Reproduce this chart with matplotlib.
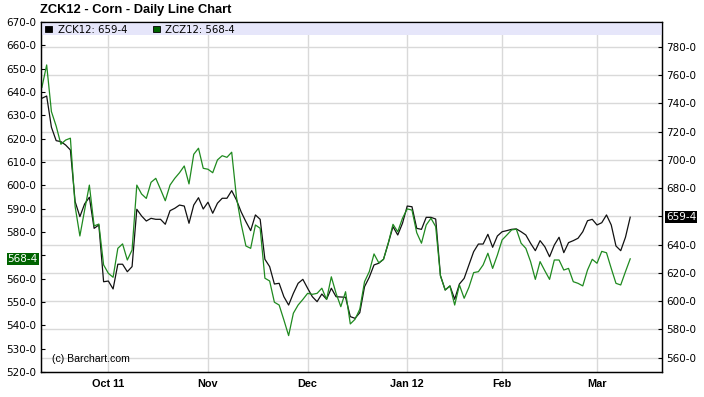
import matplotlib
matplotlib.use("Agg")
import matplotlib.pyplot as plt
from matplotlib.patches import Rectangle
from matplotlib.ticker import FuncFormatter
import numpy as np

# one value per trading day, mid Sep 2011 .. mid Mar 2012
zcz12 = [642.0, 651.6, 631.6, 625.4, 617.6, 619.4, 620.2, 590.9, 578.3, 589.4,
         600.1, 582.6, 583.4, 565.9, 562.3, 560.6, 573.0, 574.9, 568.0, 572.3,
         600.1, 596.3, 594.4, 601.3, 603.0, 598.3, 593.4, 600.1, 603.0, 605.4,
         608.3, 600.6, 613.3, 615.9, 607.3, 606.9, 605.4, 610.9, 612.7, 612.0,
         614.2, 595.0, 583.4, 574.0, 573.0, 583.0, 581.6, 560.2, 559.0, 549.9,
         548.7, 542.3, 535.6, 545.2, 548.7, 551.1, 553.7, 553.3, 553.7, 555.9,
         551.1, 560.8, 553.7, 548.0, 554.4, 540.6, 542.6, 546.9, 558.7, 563.0,
         570.6, 566.8, 568.3, 575.2, 583.3, 580.1, 585.9, 589.9, 589.4, 579.7,
         575.2, 583.0, 585.9, 582.3, 561.2, 555.1, 556.9, 548.7, 557.3, 551.6,
         556.3, 562.6, 563.0, 565.9, 570.9, 564.4, 570.1, 576.6, 578.7, 580.9,
         581.2, 575.2, 573.0, 567.3, 559.7, 567.3, 563.4, 559.7, 568.0, 568.0,
         563.7, 564.4, 558.7, 558.0, 556.9, 563.7, 568.3, 566.6, 571.7, 571.1,
         564.4, 558.0, 557.3, 563.0, 568.5]

zck12 = [743.7, 745.3, 723.2, 713.7, 713.0, 710.6, 707.1, 670.5, 659.9, 668.9,
         673.6, 651.6, 654.0, 613.8, 614.3, 608.7, 626.2, 626.2, 620.9, 624.5,
         665.1, 660.4, 656.8, 658.7, 658.0, 658.0, 654.5, 664.1, 665.8, 668.1,
         667.4, 655.2, 668.1, 673.3, 665.3, 670.1, 662.3, 669.4, 672.9, 672.9,
         678.3, 671.7, 663.2, 656.3, 650.0, 661.1, 658.0, 629.7, 624.5, 612.2,
         612.7, 603.2, 597.3, 605.6, 612.7, 615.5, 609.2, 603.2, 599.7, 605.1,
         601.4, 609.2, 603.2, 603.0, 602.8, 589.1, 587.9, 591.9, 610.3, 617.0,
         625.7, 626.9, 629.7, 641.0, 652.8, 646.9, 655.2, 667.4, 666.9, 651.6,
         650.9, 659.4, 659.4, 658.2, 618.2, 608.0, 610.8, 601.4, 612.2, 616.2,
         625.7, 635.1, 640.5, 640.5, 647.4, 638.2, 646.2, 649.2, 650.0, 650.9,
         651.2, 649.2, 646.9, 641.0, 635.8, 642.9, 638.6, 631.5, 639.8, 645.3,
         634.4, 641.5, 642.9, 644.6, 649.2, 657.0, 658.0, 654.0, 655.6, 661.1,
         654.0, 639.1, 635.8, 645.3, 659.5]

month_labels = ["Oct 11", "Nov", "Dec", "Jan 12", "Feb", "Mar"]
month_index = [14, 35, 56, 77, 97, 117]

left_ticks = list(range(520, 671, 10))
right_ticks = list(range(560, 781, 20))

GREEN = "#1f8a1f"
DARK_GREEN = "#006400"
GRID = "#d9d9d9"
SANS = "Liberation Sans"


def price(v):
    whole = int(np.floor(v))
    return f"{whole}-{int(round((v - whole) * 8))}"


x = np.arange(len(zcz12))

fig = plt.figure(figsize=(7.04, 3.97), dpi=100)
ax = fig.add_axes([40.5 / 704, 25 / 397, 621.5 / 704, 350 / 397])
ax2 = ax.twinx()
ax.set_zorder(ax2.get_zorder() + 1)
ax.patch.set_visible(False)

ax.set_xlim(-0.3, 130.7)
ax.set_ylim(520, 670)
ax2.set_ylim(549.9, 797.7)

# grid lives on the lower axes
ax2.set_axisbelow(True)
ax2.grid(axis="y", color=GRID, lw=1.0)
for m in month_index:
    ax2.axvline(m, color=GRID, lw=1.0, zorder=0.5)

# legend band
ax.add_patch(Rectangle((0, 1 - 12.7 / 350), 1, 12.7 / 350, transform=ax.transAxes,
                       fc="#e6e6fa", ec="none", zorder=0.4))

ax2.plot(x, zck12, color="#111111", lw=0.9)
ax.plot(x, zcz12, color=GREEN, lw=0.9)

for a in (ax, ax2):
    for s in a.spines.values():
        s.set_color("black")
        s.set_linewidth(0.9)

ax.set_xticks(month_index, month_labels)
ax.tick_params(axis="x", length=0, pad=5)
for t in ax.get_xticklabels():
    t.set_fontfamily(SANS)
    t.set_fontweight("bold")
    t.set_fontsize(7.8)

last_g, last_k = zcz12[-1], zck12[-1]
ax.set_yticks(left_ticks)
ax.yaxis.set_major_formatter(FuncFormatter(
    lambda v, p: "" if abs(v - last_g) < 5 else price(v)))
ax.tick_params(axis="y", direction="in", length=3, width=0.8, labelsize=7.5, pad=3)

ax2.set_yticks(right_ticks)
ax2.yaxis.set_major_formatter(FuncFormatter(
    lambda v, p: "" if abs(v - last_k) < 8 else price(v)))
ax2.tick_params(axis="y", direction="in", length=3, width=0.8, labelsize=7.5, pad=3)

# last value boxes
ax.text(-0.0045, last_g, price(last_g), transform=ax.get_yaxis_transform(),
        ha="right", va="center", fontsize=7.5, color="white",
        bbox=dict(boxstyle="square,pad=0.08", fc=DARK_GREEN, ec="none"))
ax2.text(1.0065, last_k, price(last_k), transform=ax2.get_yaxis_transform(),
         ha="left", va="center", fontsize=7.5, color="white",
         bbox=dict(boxstyle="square,pad=0.08", fc="black", ec="none"))

# legend entries
ax.add_patch(Rectangle((0.0072, 0.9714), 0.0113, 0.0172, transform=ax.transAxes,
                       fc="black", ec="black", lw=0.6, zorder=3))
ax.text(0.0282, 0.9771, "ZCK12: " + price(last_k), transform=ax.transAxes,
        va="center", fontsize=7.3)
ax.add_patch(Rectangle((0.1805, 0.9714), 0.0113, 0.0172, transform=ax.transAxes,
                       fc=DARK_GREEN, ec="black", lw=0.6, zorder=3))
ax.text(0.2003, 0.9771, "ZCZ12: " + price(last_g), transform=ax.transAxes,
        va="center", fontsize=7.3)

ax.text(0.0185, 0.036, "(c) Barchart.com", transform=ax.transAxes,
        va="center", fontsize=7.6, family=SANS)

fig.text(40 / 704, 1 - 10 / 397, "ZCK12 - Corn - Daily Line Chart",
         va="center", ha="left", fontsize=9.3, fontweight="bold", family=SANS)

fig.savefig("out.png", dpi=100, facecolor="white")
